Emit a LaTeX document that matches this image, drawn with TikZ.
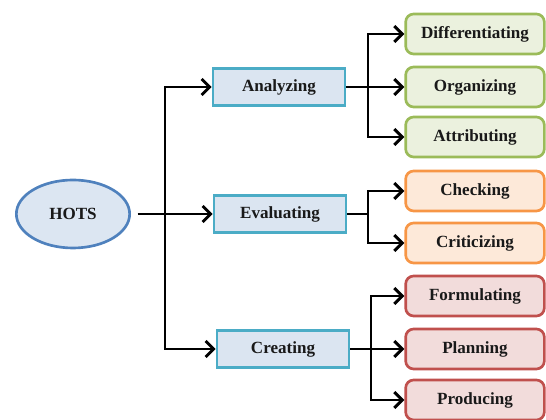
\documentclass[tikz,border=0pt]{standalone}
\usepackage{fontspec}
\setmainfont{Liberation Serif}
\usetikzlibrary{arrows.meta,shapes.geometric}
\definecolor{hotsline}{HTML}{4F81BD}
\definecolor{hotsfill}{HTML}{DCE6F2}
\definecolor{midline}{HTML}{4BACC6}
\definecolor{midfill}{HTML}{DBE5F1}
\definecolor{grnline}{HTML}{9BBB59}
\definecolor{grnfill}{HTML}{EBF1DE}
\definecolor{orgline}{HTML}{F79646}
\definecolor{orgfill}{HTML}{FDE9D9}
\definecolor{redline}{HTML}{C0504D}
\definecolor{redfill}{HTML}{F2DCDB}
\begin{document}
\begin{tikzpicture}[x=0.75pt,y=0.75pt,
    every node/.style={font=\fontsize{12.8}{14}\selectfont\bfseries, text=black!90},
    midbox/.style={draw=midline, fill=midfill, line width=2pt, minimum width=99pt, minimum height=28pt},
    leafbox/.style={rounded corners=6pt, line width=2pt, minimum width=104pt, minimum height=30pt},
    arr/.style={line width=2.2pt, -{Straight Barb[length=6pt,width=12pt,line width=2.2pt]}},
    line/.style={line width=2.2pt}]
    \useasboundingbox (0,0) rectangle (546,420);
    % Root ellipse
    \node[ellipse, draw=hotsline, fill=hotsfill, line width=2pt, minimum width=85pt, minimum height=51pt] (hots) at (73,206) {HOTS};
    % Middle level
    \node[midbox] (ana) at (279,333) {Analyzing};
    \node[midbox] (eva) at (280,206) {Evaluating};
    \node[midbox] (cre) at (283,71) {Creating};
    % Leaves
    \foreach \name/\txt/\y in {dif/Differentiating/386, org/Organizing/333, att/Attributing/283} {
            \node[leafbox, draw=grnline, fill=grnfill] (\name) at (475,\y) {\txt};
        }
    \foreach \name/\txt/\y in {chk/Checking/229, cri/Criticizing/177} {
            \node[leafbox, draw=orgline, fill=orgfill] (\name) at (475,\y) {\txt};
        }
    \foreach \name/\txt/\y in {frm/Formulating/124, pla/Planning/71, pro/Producing/20} {
            \node[leafbox, draw=redline, fill=redfill] (\name) at (475,\y) {\txt};
        }
    % Trunk and junctions
    \coordinate (tA) at (165,333);
    \coordinate (tC) at (165,71);
    \coordinate (jA) at (368,333);
    \coordinate (jE) at (368,206);
    \coordinate (jC) at (371,71);
    % Draw the connectors
    \draw[arr, shorten <=5pt] (hots.east) -- (eva.west);
    \draw[arr] (tC) |- (ana.west);
    \draw[arr] (tA) |- (cre.west);
    \draw[arr] (ana.east) -- (org.west);
    \draw[arr] (jA) |- (dif.west);
    \draw[arr] (jA) |- (att.west);
    \draw[line] (eva.east) -- (jE);
    \draw[arr] (jE) |- (chk.west);
    \draw[arr] (jE) |- (cri.west);
    \draw[arr] (cre.east) -- (pla.west);
    \draw[arr] (jC) |- (frm.west);
    \draw[arr] (jC) |- (pro.west);
\end{tikzpicture}
\end{document}
